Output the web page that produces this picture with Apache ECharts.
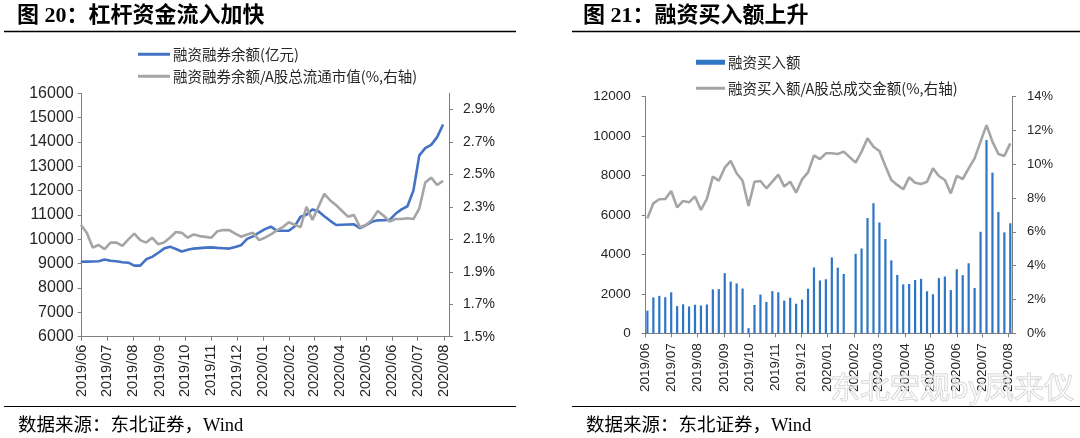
<!DOCTYPE html>
<html><head><meta charset="utf-8">
<script src="https://cdn.jsdelivr.net/npm/echarts@6/dist/echarts.min.js"></script>
<style>html,body{margin:0;padding:0;background:#fff}#c{width:1080px;height:438px}</style>
</head><body><div id="c"></div><script>
// ---------- data ----------
const monthLabels = ['2019/06','2019/07','2019/08','2019/09','2019/10','2019/11','2019/12','2020/01','2020/02','2020/03','2020/04','2020/05','2020/06','2020/07','2020/08'];

// left chart: weekly (Fridays)
const weeksL = ['2019-05-31','2019-06-07','2019-06-14','2019-06-21','2019-06-28','2019-07-05','2019-07-12','2019-07-19','2019-07-26','2019-08-02','2019-08-09','2019-08-16','2019-08-23','2019-08-30','2019-09-06','2019-09-13','2019-09-20','2019-09-27','2019-10-04','2019-10-11','2019-10-18','2019-10-25','2019-11-01','2019-11-08','2019-11-15','2019-11-22','2019-11-29','2019-12-06','2019-12-13','2019-12-20','2019-12-27','2020-01-03','2020-01-10','2020-01-17','2020-01-24','2020-01-31','2020-02-07','2020-02-14','2020-02-21','2020-02-28','2020-03-06','2020-03-13','2020-03-20','2020-03-27','2020-04-03','2020-04-10','2020-04-17','2020-04-24','2020-05-01','2020-05-08','2020-05-15','2020-05-22','2020-05-29','2020-06-05','2020-06-12','2020-06-19','2020-06-26','2020-07-03','2020-07-10','2020-07-17','2020-07-24','2020-07-31'];
const marginBalance = [9080,9085,9090,9100,9170,9120,9100,9060,9040,8920,8920,9180,9280,9440,9620,9700,9600,9500,9570,9620,9640,9660,9670,9650,9635,9620,9690,9760,10020,10120,10280,10420,10520,10360,10350,10350,10530,10930,11010,11230,11150,10950,10760,10590,10600,10610,10615,10460,10580,10720,10780,10785,10800,11050,11230,11360,12000,13450,13750,13880,14200,14720];
const marginRatio = [2.19,2.14,2.05,2.065,2.04,2.08,2.08,2.06,2.10,2.135,2.095,2.08,2.11,2.07,2.08,2.11,2.145,2.14,2.11,2.13,2.12,2.115,2.11,2.15,2.157,2.157,2.135,2.116,2.13,2.14,2.095,2.11,2.13,2.155,2.175,2.205,2.19,2.175,2.30,2.22,2.30,2.38,2.34,2.31,2.275,2.24,2.25,2.175,2.188,2.22,2.275,2.245,2.21,2.225,2.225,2.23,2.225,2.29,2.45,2.48,2.435,2.46];
const pctTicksL = [1.5,1.7,1.9,2.1,2.3,2.5,2.7,2.9];

// right chart: weekly (Mondays)
const weeksR = ['2019-06-03','2019-06-10','2019-06-17','2019-06-24','2019-07-01','2019-07-08','2019-07-15','2019-07-22','2019-07-29','2019-08-05','2019-08-12','2019-08-19','2019-08-26','2019-09-02','2019-09-09','2019-09-16','2019-09-23','2019-09-30','2019-10-07','2019-10-14','2019-10-21','2019-10-28','2019-11-04','2019-11-11','2019-11-18','2019-11-25','2019-12-02','2019-12-09','2019-12-16','2019-12-23','2019-12-30','2020-01-06','2020-01-13','2020-01-20','2020-01-27','2020-02-03','2020-02-10','2020-02-17','2020-02-24','2020-03-02','2020-03-09','2020-03-16','2020-03-23','2020-03-30','2020-04-06','2020-04-13','2020-04-20','2020-04-27','2020-05-04','2020-05-11','2020-05-18','2020-05-25','2020-06-01','2020-06-08','2020-06-15','2020-06-22','2020-06-29','2020-07-06','2020-07-13','2020-07-20','2020-07-27','2020-08-03'];
const financeBuy = [1150,1820,1900,1830,2080,1380,1470,1360,1450,1410,1460,2230,2240,3050,2620,2530,2270,260,1440,1960,1590,2140,2080,1660,1800,1500,1710,2260,3340,2680,2740,3850,3330,3010,null,4030,4300,5850,6600,5620,4780,3700,2960,2480,2500,2700,2760,2130,1980,2800,2880,2190,3250,2950,3550,2300,5150,9800,8150,6150,5120,5580];
const buyRatio = [6.80,7.69,7.93,7.95,8.42,7.45,7.83,7.75,8.10,7.30,7.95,9.27,9.03,9.80,10.20,9.47,9.03,7.53,8.97,9.01,8.58,8.97,9.39,8.68,8.97,8.32,9.11,9.52,10.53,10.31,10.65,10.65,10.61,10.75,null,10.10,10.75,11.54,11.04,10.79,9.90,9.07,8.78,8.52,9.23,8.91,8.83,8.97,9.76,9.31,9.07,8.28,9.31,9.13,9.76,10.35,11.34,12.32,11.34,10.61,10.49,11.24];

const names = ['融资融券余额(亿元)','融资融券余额/A股总流通市值(%,右轴)','融资买入额','融资买入额/A股总成交金额(%,右轴)'];

// ---------- build ----------
const ts = s => { const p = s.split(/[-\/]/).map(Number); return new Date(p[0], p[1]-1, p[2]||1).getTime(); };
const monthVals = monthLabels.map(ts);
function fmtMonth(v){ const d = new Date(v); const m = d.getMonth()+1; return d.getFullYear()+'/'+(m<10?'0':'')+m; }
const pair = (dates, vals) => dates.map((d,i)=>[ts(d), vals[i]]);

const FONT = '"Liberation Sans", Arial, "Noto Sans CJK SC", sans-serif';
const CJK = '"Noto Sans CJK SC", "Liberation Sans", sans-serif';
const SERIF = '"Liberation Serif", "Noto Sans CJK SC"';
const AX = '#7f7f7f';
const LBL = '#262626';

function xAxisCfg(grid, min, max, fs, margin){
  return {type:'value', gridIndex:grid, min:ts(min), max:ts(max), scale:true,
    axisLine:{show:true, onZero:false, lineStyle:{color:AX, width:1}},
    axisTick:{show:true, customValues:monthVals, length:4, lineStyle:{color:AX}},
    axisLabel:{customValues:monthVals, rotate:90, margin:margin, fontSize:fs, color:LBL, fontFamily:FONT, formatter:fmtMonth, hideOverlap:false},
    splitLine:{show:false}};
}
function yAxisCfg(grid, pos, opts){
  return Object.assign({type:'value', gridIndex:grid, position:pos,
    axisLine:{show:true, lineStyle:{color:AX, width:1}},
    axisTick:{show:true, length:4, lineStyle:{color:AX}},
    splitLine:{show:false}}, opts);
}
function legend(name, left, top, w, h){
  return {data:[{name:name, icon:'rect'}], left:left, top:top, padding:0, itemWidth:w, itemHeight:h, itemGap:0,
    textStyle:{fontFamily:CJK, fontSize:14.5, color:'#262626', padding:[0,0,0,-2]}};
}
const plain = v => String(v);

const chart = echarts.init(document.getElementById('c'), null, {renderer:'canvas'});
chart.setOption({
  animation:false,
  backgroundColor:'#fff',
  grid:[{left:81.7, right:631, top:93.3, bottom:101.3},{left:645.7, right:68, top:96.7, bottom:104.7}],
  legend:[legend(names[0],138,47,32,3), legend(names[1],138,69,32,3), legend(names[2],696,55,29,5), legend(names[3],696,81,29,3)],
  xAxis:[xAxisCfg(0,'2019-06-01','2020-08-07',14.5,8), xAxisCfg(1,'2019-06-01','2020-08-05',13.5,10)],
  yAxis:[
    yAxisCfg(0,'left',{min:6000,max:16000,interval:1000, axisLabel:{fontSize:16, margin:8, color:LBL, fontFamily:FONT, formatter:plain}}),
    yAxisCfg(0,'right',{min:1.5,max:3.0,
      axisTick:{show:true, length:4, customValues:pctTicksL, lineStyle:{color:AX}},
      axisLabel:{customValues:pctTicksL, fontSize:14, margin:14, color:LBL, fontFamily:FONT, formatter:v=>v.toFixed(1)+'%'}}),
    yAxisCfg(1,'left',{min:0,max:12000,interval:2000, axisLabel:{fontSize:13.5, margin:15, color:LBL, fontFamily:FONT, formatter:plain}}),
    yAxisCfg(1,'right',{min:0,max:14,interval:2, axisLabel:{fontSize:13, margin:15, color:LBL, fontFamily:FONT, formatter:v=>v+'%'}})
  ],
  series:[
    {name:names[0], type:'line', xAxisIndex:0, yAxisIndex:0, data:pair(weeksL, marginBalance), symbol:'none', color:'#4472c4', lineStyle:{width:2.6, color:'#4472c4'}},
    {name:names[1], type:'line', xAxisIndex:0, yAxisIndex:1, data:pair(weeksL, marginRatio), symbol:'none', color:'#a5a5a5', lineStyle:{width:2.6, color:'#a5a5a5'}},
    {name:names[2], type:'bar', xAxisIndex:1, yAxisIndex:2, data:pair(weeksR, financeBuy), barWidth:2.2, color:'#2e75c4', itemStyle:{color:'#2e75c4'}},
    {name:names[3], type:'line', xAxisIndex:1, yAxisIndex:3, data:pair(weeksR, buyRatio), symbol:'none', connectNulls:true, color:'#a5a5a5', lineStyle:{width:2.6, color:'#a5a5a5'}}
  ],
  graphic:[
    {type:'text', x:17, y:16, style:{text:'图 20：杠杆资金流入加快', font:'bold 22px ' + SERIF, fill:'#000', verticalAlign:'middle'}},
    {type:'text', x:583, y:16, style:{text:'图 21：融资买入额上升', font:'bold 22px ' + SERIF, fill:'#000', verticalAlign:'middle'}},
    {type:'line', shape:{x1:4,y1:31.5,x2:516,y2:31.5}, style:{stroke:'#000', lineWidth:1.5}},
    {type:'line', shape:{x1:572,y1:31.5,x2:1080,y2:31.5}, style:{stroke:'#000', lineWidth:1.5}},
    {type:'line', shape:{x1:4,y1:406.5,x2:516,y2:406.5}, style:{stroke:'#000', lineWidth:1.2}},
    {type:'line', shape:{x1:572,y1:406.5,x2:1080,y2:406.5}, style:{stroke:'#000', lineWidth:1.2}},
    {type:'text', x:18, y:426, style:{text:'数据来源：东北证券，Wind', font:'18.5px ' + SERIF, fill:'#000', verticalAlign:'middle'}},
    {type:'text', x:586, y:426, style:{text:'数据来源：东北证券，Wind', font:'18.5px ' + SERIF, fill:'#000', verticalAlign:'middle'}},
    {type:'text', x:830, y:387, z:100, style:{text:'东北宏观by凤来仪', font:'30px "Noto Sans CJK SC"', fill:'rgba(255,255,255,0.5)', stroke:'#cccccc', lineWidth:1, verticalAlign:'middle'}}
  ]
});
</script></body></html>
